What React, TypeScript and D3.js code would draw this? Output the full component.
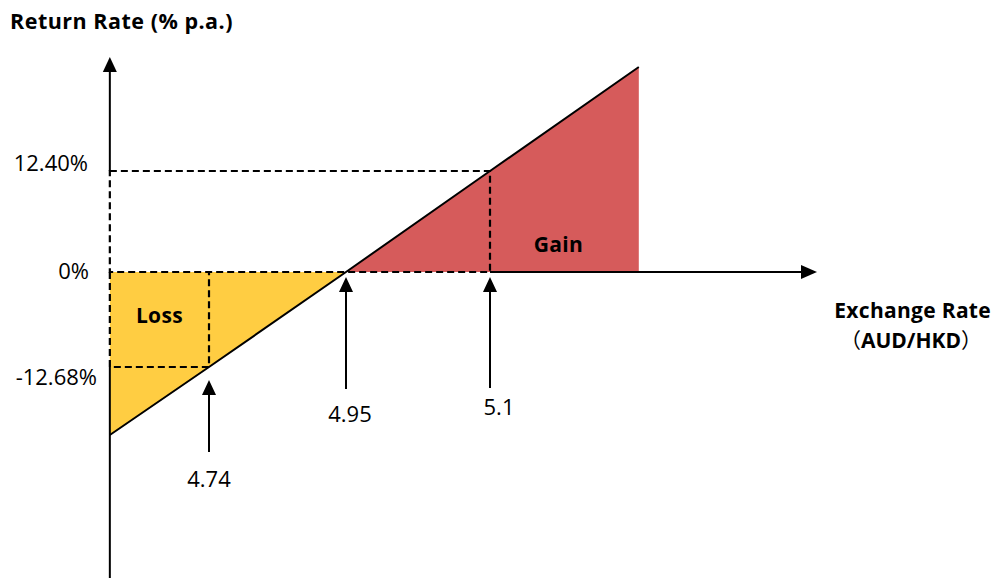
import React from "react";
import * as d3 from "d3";

// Payoff profile of the structured deposit: return vs. AUD/HKD fixing
const payoffRates = [4.588, 4.74, 4.95, 5.1, 5.255];
const payoffReturns = [-21.76, -12.68, 0, 12.4, 25.17];

// Key levels marked on the chart
const breakEvenRate = 4.95;
const lossRate = 4.74;
const gainRate = 5.1;
const lossReturn = -12.68;
const gainReturn = 12.4;

const rateMarks = [
  { rate: 4.74, label: "4.74", gap: 13, arrowLen: 72, labelDy: 107, shift: 0 },
  { rate: 4.95, label: "4.95", gap: 5, arrowLen: 112, labelDy: 145, shift: 4 },
  { rate: 5.1, label: "5.1", gap: 5, arrowLen: 111, labelDy: 138, shift: 9 },
];
const returnTicks = [
  { value: 12.4, label: "12.40%", dy: 0, right: 88 },
  { value: 0, label: "0%", dy: 7, right: 89 },
  { value: -12.68, label: "-12.68%", dy: 18, right: 97 },
];

const W = 992;
const H = 578;
const FONT = "'Open Sans', 'Noto Sans', sans-serif";
const CJK = "'Noto Sans CJK SC', sans-serif";

export default function App() {
  const x = d3.scaleLinear().domain([4.74, 4.95, 5.1]).range([209, 346, 490]);
  const y = d3.scaleLinear().domain([-12.68, 0, 12.4]).range([367, 272, 171]);

  const pts = payoffRates.map((r, i) => ({ r, v: payoffReturns[i] }));
  const axisX = x(payoffRates[0]);
  const axisY = y(0);
  const arrowRight = 817;

  const line = d3
    .line<{ r: number; v: number }>()
    .x((d) => x(d.r))
    .y((d) => y(d.v));

  const area = d3
    .area<{ r: number; v: number }>()
    .x((d) => x(d.r))
    .y0(y(0))
    .y1((d) => y(d.v));

  const lossPts = pts.filter((d) => d.r <= breakEvenRate);
  const gainPts = pts.filter((d) => d.r >= breakEvenRate);
  const lastPt = pts[pts.length - 1];

  const upArrow = (cx: number, tip: number, len: number) =>
    `M${cx},${tip} L${cx - 7},${tip + len} L${cx + 7},${tip + len} Z`;

  const dash = { stroke: "#000", strokeWidth: 2.2, strokeDasharray: "7,4", fill: "none" };
  const bold = { fontFamily: FONT, fontWeight: "bold", fontSize: 21, letterSpacing: 0.3 } as const;

  return (
    <div style={{ position: "absolute", left: 0, top: 0 }}>
      <svg width={W} height={H} style={{ display: "block", background: "#fff" }}>
        {/* shaded regions */}
        <path d={area(lossPts) ?? ""} fill="#FFCD42" />
        <path d={area(gainPts) ?? ""} fill="#D65B5B" />

        {/* y axis (solid outside the dashed guide box) */}
        <line x1={axisX} x2={axisX} y1={70} y2={y(gainReturn)} stroke="#000" strokeWidth={2} />
        <line x1={axisX} x2={axisX} y1={y(lossReturn)} y2={H} stroke="#000" strokeWidth={2} />
        <path d={`M${axisX},57 L${axisX - 7},72 L${axisX + 7},72 Z`} fill="#000" />

        {/* x axis */}
        <line x1={x(gainRate)} x2={arrowRight - 12} y1={axisY} y2={axisY} stroke="#000" strokeWidth={2} />
        <path
          d={`M${arrowRight},${axisY} L${arrowRight - 16},${axisY - 7} L${arrowRight - 16},${axisY + 7} Z`}
          fill="#000"
        />

        {/* dashed guides */}
        <path d={`M${axisX},${y(gainReturn)} H${x(gainRate)} V${axisY} H${axisX} Z`} {...dash} />
        <path d={`M${axisX},${axisY} V${y(lossReturn)} H${x(lossRate)} V${axisY}`} {...dash} />

        {/* payoff line */}
        <path d={line(pts) ?? ""} fill="none" stroke="#000" strokeWidth={2} />

        {/* rate markers */}
        {rateMarks.map((m) => {
          const cx = x(m.rate);
          const v = payoffReturns[payoffRates.indexOf(m.rate)];
          const tip = y(Math.min(v, 0)) + m.gap;
          return (
            <g key={m.label}>
              <path d={upArrow(cx, tip, 15)} fill="#000" />
              <line x1={cx} x2={cx} y1={tip + 10} y2={tip + m.arrowLen} stroke="#000" strokeWidth={2} />
              <text
                x={cx + m.shift}
                y={tip + m.labelDy}
                textAnchor="middle"
                fontFamily={FONT}
                fontSize={22}
                fill="#000"
              >
                {m.label}
              </text>
            </g>
          );
        })}

        {/* return tick labels */}
        {returnTicks.map((t) => (
          <text
            key={t.label}
            x={t.right}
            y={y(t.value) + t.dy}
            textAnchor="end"
            fontFamily={FONT}
            fontSize={22}
            fill="#000"
          >
            {t.label}
          </text>
        ))}

        {/* region labels */}
        <text x={(axisX + x(lossRate)) / 2} y={323} textAnchor="middle" {...bold}>
          Loss
        </text>
        <text x={(x(gainRate) + x(lastPt.r)) / 2 - 6} y={252} textAnchor="middle" {...bold}>
          Gain
        </text>

        {/* axis titles */}
        <text x={10} y={29} {...bold} fontSize={21.5} letterSpacing={0.5}>
          Return Rate (% p.a.)
        </text>
        <text x={991} y={318} textAnchor="end" {...bold}>
          Exchange Rate
        </text>
        <text x={911} y={348} textAnchor="middle" {...bold} letterSpacing={0}>
          <tspan fontFamily={CJK} fontWeight="normal">（</tspan>
          <tspan>AUD/HKD</tspan>
          <tspan fontFamily={CJK} fontWeight="normal">）</tspan>
        </text>
      </svg>
    </div>
  );
}
